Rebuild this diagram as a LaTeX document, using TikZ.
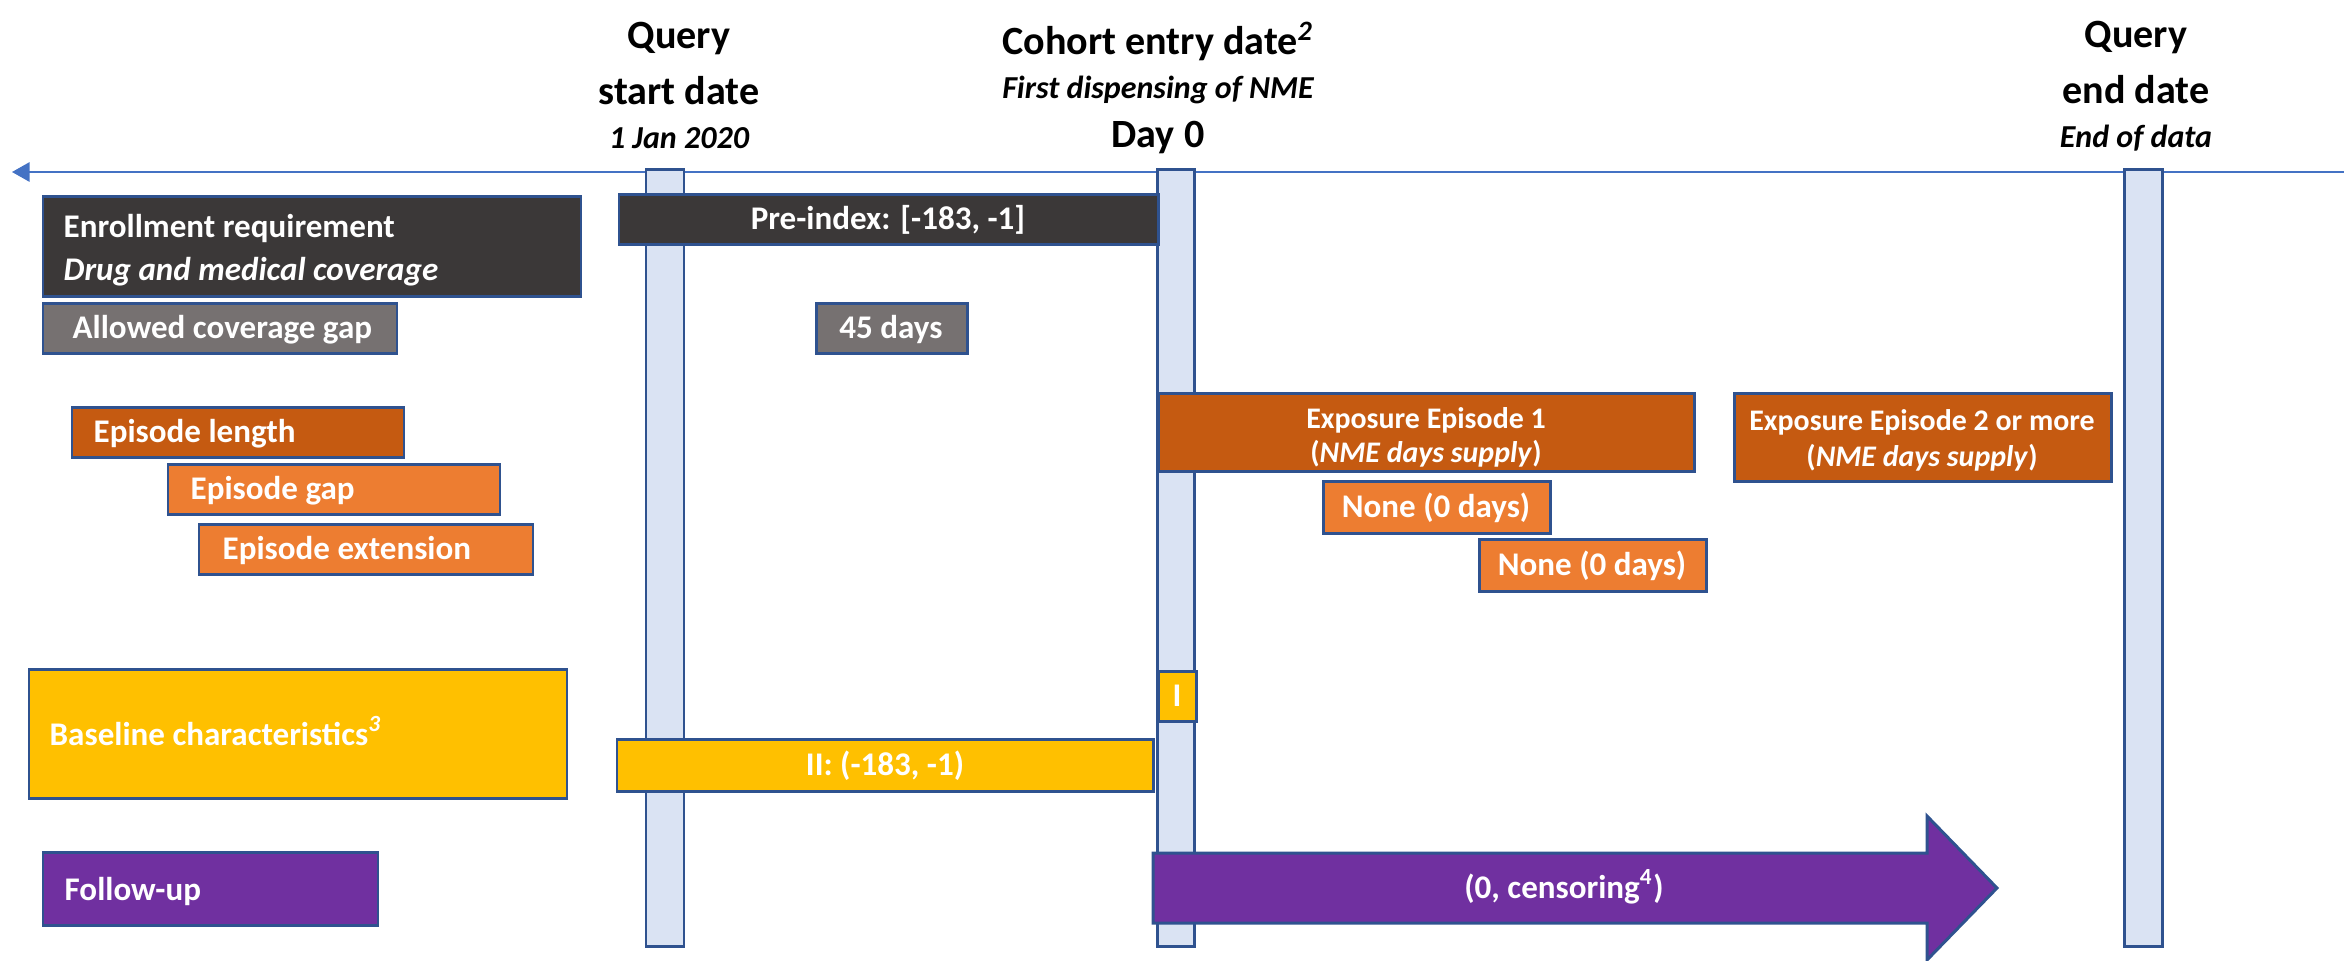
\documentclass[tikz,border=0pt]{standalone}
\usepackage{fontspec}
\setmainfont{Carlito}
\usetikzlibrary{arrows.meta,fit}
\definecolor{bord}{HTML}{2F528F}
\definecolor{dk}{HTML}{3B3838}
\definecolor{gr}{HTML}{767171}
\definecolor{dor}{HTML}{C55A11}
\definecolor{orn}{HTML}{ED7D31}
\definecolor{gold}{HTML}{FFC000}
\definecolor{purp}{HTML}{7030A0}
\definecolor{barfill}{HTML}{DAE3F3}
\definecolor{tline}{HTML}{4472C4}
\begin{document}
\begin{tikzpicture}[x=0.01cm,y=-0.01cm,
  bx/.style={draw=bord, line width=0.85pt, inner sep=0pt},
  barbox/.style={bx, fill=barfill},
  wt/.style={text=white, font=\fontsize{9.4}{11.3}\selectfont\bfseries, inner sep=0pt},
  et/.style={text=white, font=\fontsize{8.5}{10}\selectfont\bfseries, inner sep=0pt},
  hd/.style={font=\fontsize{11.4}{13.7}\selectfont\bfseries, inner sep=0pt},
  sb/.style={font=\fontsize{9.1}{11}\selectfont\bfseries\itshape, inner sep=0pt}]
\useasboundingbox (0,0) rectangle (2344,960);
% timeline
\coordinate (tlR) at (2344,172);
\coordinate (tlL) at (12,172);
\draw[tline, line width=0.55pt, -{Triangle[length=5pt,width=5.5pt]}] (tlR) -- (tlL);
% bars
\node[barbox, fit={(646,169)(684,946)}] (bar1) {};
\node[barbox, fit={(1157,169)(1194,946)}] (bar2) {};
\node[barbox, fit={(2124,169)(2162,946)}] (bar3) {};
% headings
\node[hd, anchor=base] (h1a) at (679,48) {Query};
\node[hd, anchor=base] (h1b) at (679,104) {start date};
\node[sb, anchor=base] (h1c) at (679,148) {1 Jan 2020};
\node[hd, anchor=base] (h2a) at (1158,54) {Cohort entry date\textsuperscript{\itshape 2}};
\node[sb, anchor=base] (h2b) at (1158,98) {First dispensing of NME};
\node[hd, anchor=base] (h2c) at (1158,147) {Day 0};
\node[hd, anchor=base] (h3a) at (2136,47) {Query};
\node[hd, anchor=base] (h3b) at (2136,103) {end date};
\node[sb, anchor=base] (h3c) at (2136,147) {End of data};
% enrollment
\node[bx, fill=dk, fit={(43,196)(581,296)}] (enr) {};
\node[wt, anchor=base west] (enrt1) at (63,237) {Enrollment requirement};
\node[wt, anchor=base west, font=\fontsize{9.4}{11.3}\selectfont\bfseries\itshape] (enrt2) at (63,280) {Drug and medical coverage};
\node[bx, fill=dk, fit={(619,194)(1158,244)}] (pre) {};
\node[wt, anchor=base] (pret) at (888,229) {Pre-index: [-183, -1]};
\node[bx, fill=gr, fit={(43,303)(397,353)}] (acg) {};
\node[wt, anchor=base west] (acgt) at (72,338) {Allowed coverage gap};
\node[bx, fill=gr, fit={(816,303)(967,353)}] (d45) {};
\node[wt, anchor=base] (d45t) at (891,338) {45 days};
% episodes
\node[bx, fill=dor, fit={(72,407)(404,457)}] (elen) {};
\node[wt, anchor=base west] (elent) at (93,442) {Episode length};
\node[bx, fill=orn, fit={(168,464)(500,514)}] (egap) {};
\node[wt, anchor=base west] (egapt) at (190,499) {Episode gap};
\node[bx, fill=orn, fit={(199,524)(533,574)}] (eext) {};
\node[wt, anchor=base west] (eextt) at (222,559) {Episode extension};
\node[bx, fill=dor, fit={(1158,393)(1694,471)}] (exp1) {};
\node[et, anchor=base] (exp1a) at (1426,428) {Exposure Episode 1};
\node[et, anchor=base] (exp1b) at (1426,462) {(\textit{NME days supply})};
\node[bx, fill=dor, fit={(1734,393)(2111,481)}] (exp2) {};
\node[et, anchor=base] (exp2a) at (1922,430) {Exposure Episode 2 or more};
\node[et, anchor=base] (exp2b) at (1922,466) {(\textit{NME days supply})};
\node[bx, fill=orn, fit={(1323,481)(1550,533)}] (none1) {};
\node[wt, anchor=base] (none1t) at (1436,517) {None (0 days)};
\node[bx, fill=orn, fit={(1479,539)(1706,591)}] (none2) {};
\node[wt, anchor=base] (none2t) at (1592,575) {None (0 days)};
% baseline
\node[bx, fill=gold, fit={(29,669)(567,798)}] (base) {};
\node[wt, anchor=base west] (baset) at (49,745) {Baseline characteristics\textsuperscript{\itshape 3}};
\node[bx, fill=gold, fit={(1158,671)(1196,721)}] (one) {};
\node[wt, anchor=base] (onet) at (1177,706) {I};
\node[bx, fill=gold, fit={(617,739)(1153,791)}] (two) {};
\node[wt, anchor=base] (twot) at (885,775) {II: (-183, -1)};
% follow-up
\node[bx, fill=purp, fit={(43,852)(378,925)}] (fu) {};
\node[wt, anchor=base west] (fut) at (64,900) {Follow-up};
\draw[draw=bord, line width=0.85pt, fill=purp] (1153,853) -- (1927,853) -- (1927,816) -- (1997,888) -- (1927,960) -- (1927,923) -- (1153,923) -- cycle;
\node[wt, anchor=base] (fuat) at (1564,898) {(0, censoring\textsuperscript{4})};
\end{tikzpicture}
\end{document}
